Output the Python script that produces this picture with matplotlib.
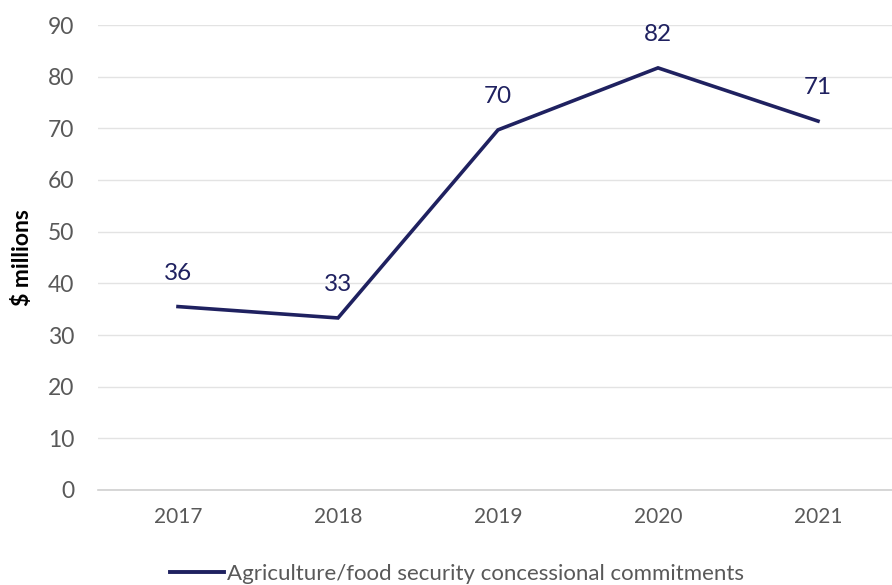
import matplotlib.pyplot as plt
from matplotlib.lines import Line2D

years = ["2017", "2018", "2019", "2020", "2021"]
commitments = [35.5, 33.3, 69.7, 81.7, 71.4]
labels = ["36", "33", "70", "82", "71"]
yticks = [0, 10, 20, 30, 40, 50, 60, 70, 80, 90]

navy = "#1f2160"
grey_text = "#595959"

plt.rcParams['font.family'] = ['Lato', 'DejaVu Sans']

fig = plt.figure(figsize=(8.92, 5.85), dpi=100)
ax = fig.add_axes([98 / 892, 95 / 585, 800 / 892, 465 / 585])

x = list(range(len(years)))
ax.plot(x, commitments, color=navy, linewidth=2.6, solid_joinstyle='miter')

for xi, v, lab in zip(x, commitments, labels):
    ax.annotate(lab, (xi, v), xytext=(0, 24), textcoords='offset points',
                ha='center', va='center', fontsize=17.5, color=navy)

ax.set_xlim(-0.5, 4.5)
ax.set_ylim(0, 90)
ax.set_xticks(x)
ax.set_xticklabels(years, fontsize=15, color=grey_text)
ax.set_yticks(yticks)
ax.set_yticklabels([str(t) for t in yticks], fontsize=16.5, color=grey_text)
ax.tick_params(axis='both', length=0)
ax.tick_params(axis='x', pad=12)
ax.tick_params(axis='y', pad=17)

ax.grid(axis='y', color='#e3e3e3', linewidth=1)
ax.set_axisbelow(True)
for side in ['top', 'right', 'left']:
    ax.spines[side].set_visible(False)
ax.spines['bottom'].set_color('#d0d0d0')
ax.spines['bottom'].set_linewidth(1.2)

fig.text(23 / 892, 1 - 258 / 585, "$ millions", rotation=90, ha='center', va='center',
         fontsize=16.5, fontweight='bold', color='black')

handle = Line2D([0], [0], color=navy, linewidth=2.8)
fig.legend([handle], ["Agriculture/food security concessional commitments"],
           loc='center', bbox_to_anchor=(457 / 892, 1 - 574 / 585), frameon=False,
           fontsize=16, handlelength=2.45, handletextpad=0.15, labelcolor=grey_text)

fig.savefig("out.png", dpi=100)
